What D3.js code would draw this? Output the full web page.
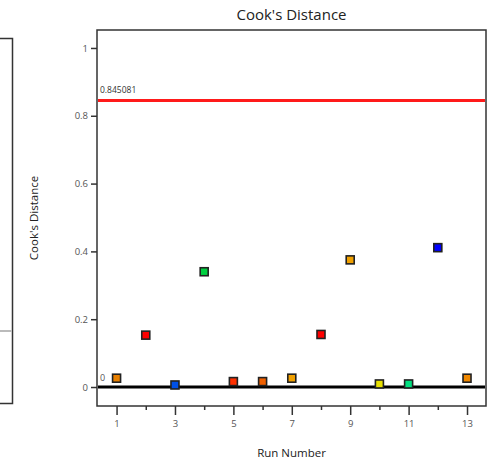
<!DOCTYPE html>
<html>
<head>
<meta charset="utf-8">
<script src="https://cdn.jsdelivr.net/npm/d3@7"></script>
<style>
  body { margin: 0; background: #fff; }
  svg { display: block; font-family: "Open Sans", "Noto Sans", sans-serif; }
</style>
</head>
<body>
<div id="chart"></div>
<script>
const runs = [1, 2, 3, 4, 5, 6, 7, 8, 9, 10, 11, 12, 13]
const cooks = [0.026, 0.153, 0.006, 0.340, 0.016, 0.016, 0.026, 0.155, 0.375, 0.009, 0.009, 0.411, 0.026]
const pointColors = ['#e88000', '#ff0000', '#0050e8', '#00d040', '#ff3000', '#f06000', '#f0a000',
  '#ff0000', '#f0a000', '#e8e000', '#00e080', '#0000ff', '#f08800']
const yTicks = [0, 0.2, 0.4, 0.6, 0.8, 1]
const xMajor = [1, 3, 5, 7, 9, 11, 13]
const xMinor = [2, 4, 6, 8, 10, 12]
const limit = 0.845081

const width = 491
const height = 465
const box = {left: 97, top: 30, right: 486, bottom: 406}

const svg = d3.select('#chart').append('svg')
  .attr('width', width).attr('height', height)

const x = d3.scaleLinear().domain([0.33, 13.65]).range([box.left, box.right])
const y = d3.scaleLinear().domain([-0.056, 1.053]).range([box.bottom, box.top])

// partial neighbouring panel on the far left
const lp = svg.append('g')
lp.append('path')
  .attr('d', 'M0,38.5H12.5V403.5H0')
  .attr('fill', 'none').attr('stroke', '#333').attr('stroke-width', 1.5)
lp.append('line')
  .attr('x1', 0).attr('x2', 11.5).attr('y1', 331).attr('y2', 331)
  .attr('stroke', '#bbb').attr('stroke-width', 2)

// title
svg.append('text')
  .attr('x', (box.left + box.right) / 2).attr('y', 20)
  .attr('text-anchor', 'middle').attr('font-size', 15).attr('fill', '#222')
  .text("Cook's Distance")

// y axis
const yAxis = svg.append('g')
  .attr('transform', `translate(${box.left},0)`)
  .call(d3.axisLeft(y).tickValues(yTicks).tickSize(6).tickPadding(3).tickFormat(d3.format('~g')))
yAxis.select('.domain').remove()
yAxis.selectAll('line').attr('stroke', '#333').attr('stroke-width', 1.5)
yAxis.selectAll('text').attr('font-size', 9.5).attr('fill', '#555')
  .attr('font-family', '"Open Sans", "Noto Sans", sans-serif')

// x axis
const xAxis = svg.append('g')
  .attr('transform', `translate(0,${box.bottom})`)
  .call(d3.axisBottom(x).tickValues(xMajor).tickSize(9).tickPadding(5).tickFormat(d3.format('d')))
xAxis.select('.domain').remove()
xAxis.selectAll('line').attr('stroke', '#333').attr('stroke-width', 1.5)
xAxis.selectAll('text').attr('font-size', 9.5).attr('fill', '#555')
  .attr('font-family', '"Open Sans", "Noto Sans", sans-serif')

const xMinorAxis = svg.append('g')
  .attr('transform', `translate(0,${box.bottom})`)
  .call(d3.axisBottom(x).tickValues(xMinor).tickSize(4).tickFormat(''))
xMinorAxis.select('.domain').remove()
xMinorAxis.selectAll('line').attr('stroke', '#333').attr('stroke-width', 1.5)

// axis titles
svg.append('text')
  .attr('x', (box.left + box.right) / 2).attr('y', 457)
  .attr('text-anchor', 'middle').attr('font-size', 11.5).attr('fill', '#222')
  .text('Run Number')
svg.append('text')
  .attr('transform', `translate(38,${(box.top + box.bottom) / 2}) rotate(-90)`)
  .attr('text-anchor', 'middle').attr('font-size', 11.5).attr('fill', '#222')
  .text("Cook's Distance")

// plot frame
svg.append('rect')
  .attr('x', box.left).attr('y', box.top)
  .attr('width', box.right - box.left).attr('height', box.bottom - box.top)
  .attr('fill', 'none').attr('stroke', '#333').attr('stroke-width', 1.5)

// limit line
svg.append('line')
  .attr('x1', box.left + 1).attr('x2', box.right - 1)
  .attr('y1', y(limit)).attr('y2', y(limit))
  .attr('stroke', '#ff1a1a').attr('stroke-width', 3)
svg.append('text')
  .attr('x', box.left + 3).attr('y', y(limit) - 7)
  .attr('font-size', 8.5).attr('fill', '#333')
  .text(String(limit))

// zero line
svg.append('line')
  .attr('x1', box.left + 1).attr('x2', box.right - 1)
  .attr('y1', y(0)).attr('y2', y(0))
  .attr('stroke', '#000').attr('stroke-width', 3)
svg.append('text')
  .attr('x', box.left + 3).attr('y', y(0) - 6)
  .attr('font-size', 9).attr('fill', '#555')
  .text('0')

// points
svg.selectAll('rect.pt')
  .data(runs)
  .enter()
  .append('rect')
  .classed('pt', true)
  .attr('x', (d, i) => x(d) - 4)
  .attr('y', (d, i) => y(cooks[i]) - 4)
  .attr('width', 8).attr('height', 8)
  .attr('fill', (d, i) => pointColors[i])
  .attr('stroke', '#222').attr('stroke-width', 1.6)
</script>
</body>
</html>
